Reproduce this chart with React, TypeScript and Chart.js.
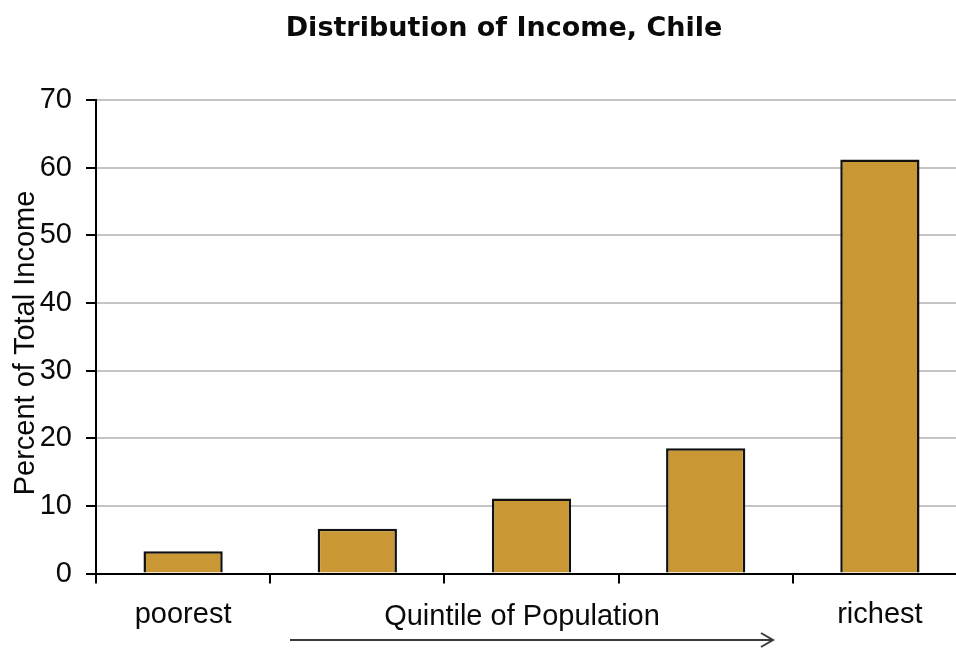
import { useEffect, useRef } from 'react';
import { Chart, registerables } from 'chart.js';

Chart.register(...registerables);

// Share of total income received by each fifth of the population
const quintileLabels = ['poorest', '', '', '', 'richest'];
const incomeShare = [3.3, 6.6, 11.1, 18.5, 61.2];
const yTickValues = [0, 10, 20, 30, 40, 50, 60, 70];

const chartTitle = 'Distribution of Income, Chile';
const yAxisTitle = 'Percent of Total Income';
const xAxisCaption = 'Quintile of Population';

const SANS = '"Liberation Sans", Arial, Helvetica, sans-serif';
const TEXT = '#0a0a0a';

// Title, rotated axis title, caption and the arrow under the axis
const decorations = {
  id: 'decorations',
  afterDraw(chart: any) {
    const { ctx } = chart;
    ctx.save();
    ctx.fillStyle = TEXT;
    ctx.textAlign = 'center';
    ctx.textBaseline = 'middle';

    ctx.font = 'bold 27px "DejaVu Sans", Verdana, sans-serif';
    ctx.fillText(chartTitle, 504, 29);

    ctx.font = `29px ${SANS}`;
    ctx.fillText(xAxisCaption, 522, 617);

    ctx.save();
    ctx.translate(26, 343);
    ctx.rotate(-Math.PI / 2);
    ctx.fillText(yAxisTitle, 0, 0);
    ctx.restore();

    ctx.strokeStyle = '#3a3a3a';
    ctx.lineWidth = 2;
    ctx.beginPath();
    ctx.moveTo(290, 640);
    ctx.lineTo(772, 640);
    ctx.stroke();
    ctx.beginPath();
    ctx.moveTo(761, 633);
    ctx.lineTo(773, 640);
    ctx.lineTo(761, 647);
    ctx.stroke();
    ctx.restore();
  },
};

export default function App() {
  const canvasRef = useRef<HTMLCanvasElement | null>(null);

  useEffect(() => {
    const canvas = canvasRef.current;
    if (!canvas) return;
    const chart = new Chart(canvas, {
      type: 'bar',
      data: {
        labels: quintileLabels,
        datasets: [
          {
            data: incomeShare,
            backgroundColor: '#C99834',
            borderColor: '#111111',
            borderWidth: 2.5,
            borderSkipped: 'bottom',
            categoryPercentage: 1,
            barPercentage: 0.455,
          },
        ],
      },
      options: {
        responsive: false,
        animation: false,
        devicePixelRatio: 1,
        layout: { padding: { top: 100, right: 23, bottom: 0, left: 0 } },
        plugins: {
          legend: { display: false },
          title: { display: false },
          tooltip: { enabled: false },
        },
        scales: {
          x: {
            offset: true,
            afterFit: (scale: any) => {
              scale.height = 78.5;
            },
            grid: {
              offset: true,
              drawOnChartArea: false,
              drawTicks: true,
              tickLength: 10,
              tickColor: '#000000',
              tickWidth: 2,
              color: '#000000',
              lineWidth: 2,
            },
            border: { display: true, color: '#000000', width: 2 },
            ticks: {
              color: TEXT,
              font: { family: SANS, size: 29 },
              padding: 14,
              maxRotation: 0,
              autoSkip: false,
            },
          },
          y: {
            min: 0,
            max: 70,
            afterFit: (scale: any) => {
              scale.width = 96;
            },
            afterBuildTicks: (scale: any) => {
              scale.ticks = yTickValues.map((v) => ({ value: v }));
            },
            grid: {
              color: '#c4c4c4',
              lineWidth: 2,
              drawTicks: true,
              tickLength: 10,
              tickColor: '#000000',
              tickWidth: 2,
            },
            border: { display: true, color: '#000000', width: 2 },
            ticks: {
              color: TEXT,
              font: { family: SANS, size: 29 },
              padding: 14,
            },
          },
        },
      },
      plugins: [decorations],
    });
    return () => chart.destroy();
  }, []);

  return (
    <div
      style={{
        position: 'fixed',
        left: 0,
        top: 0,
        width: 956,
        height: 652,
        overflow: 'hidden',
        background: '#ffffff',
      }}
    >
      <canvas ref={canvasRef} width={990} height={652} style={{ display: 'block' }} />
    </div>
  );
}
